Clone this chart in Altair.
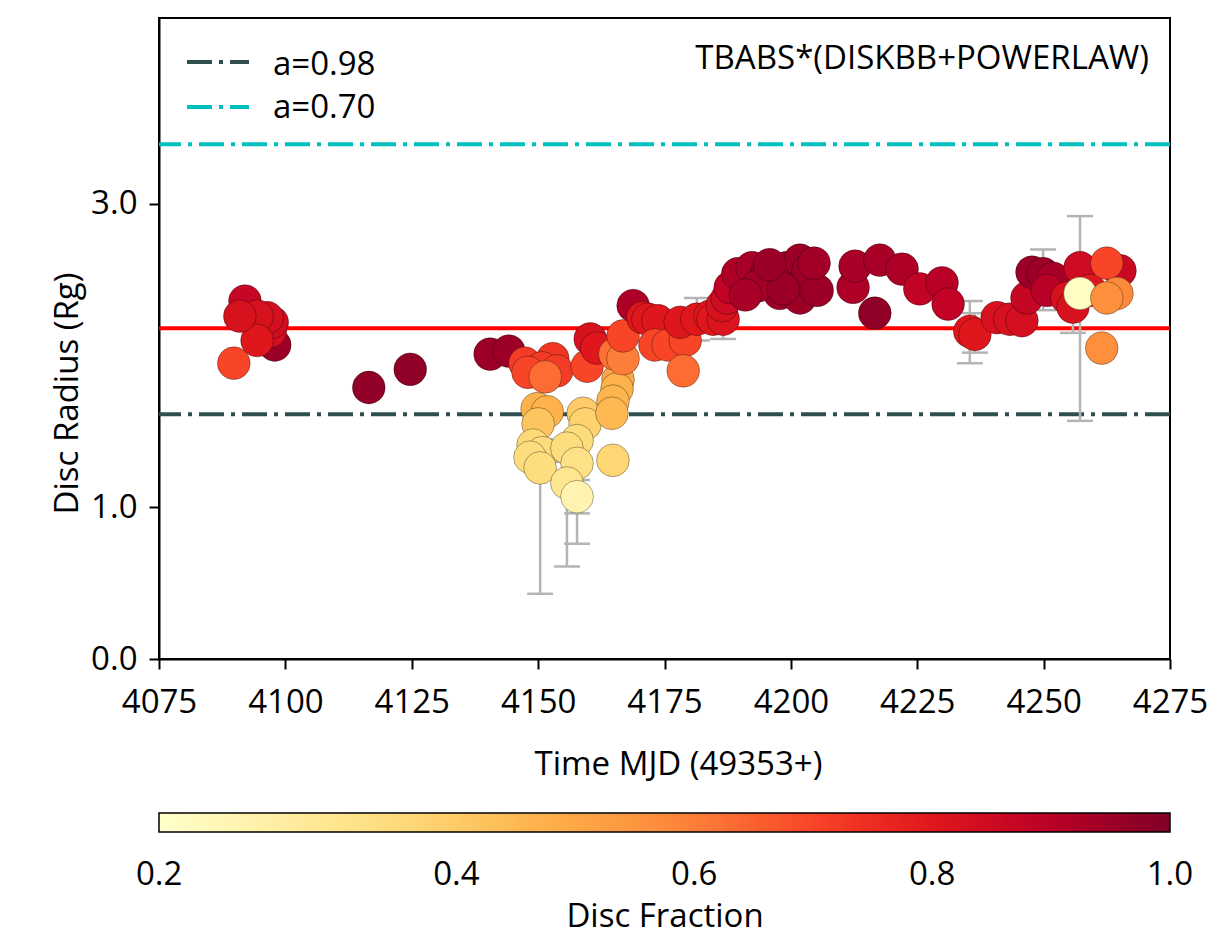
import altair as alt
import pandas as pd

# ---------------- data ----------------
t_mjd = [4097.9, 4092.0, 4097.0, 4097.4, 4096.4, 4094.4, 4094.4, 4091.0, 4089.8,
         4116.5, 4124.7,
         4140.5, 4144.2, 4147.4, 4152.9, 4150.8, 4153.7, 4148.0, 4151.4,
         4149.8, 4151.8, 4150.0, 4149.0, 4150.8, 4148.4, 4150.4,
         4158.9, 4159.3, 4157.7, 4155.7, 4157.7, 4155.7, 4157.7,
         4159.7, 4160.3, 4161.6, 4165.8, 4165.6, 4164.8, 4164.6, 4164.8,
         4165.2, 4166.8, 4166.8, 4168.8, 4170.7, 4171.7, 4173.7, 4173.1,
         4175.7, 4179.1, 4178.7, 4178.1, 4181.4, 4184.0, 4184.6, 4186.6,
         4186.4, 4187.4, 4188.0, 4189.5, 4192.3, 4195.3, 4197.3, 4197.8,
         4199.2, 4201.8, 4201.8, 4203.4, 4205.2, 4193.5, 4198.5, 4195.8,
         4204.6, 4191.0, 4212.3, 4212.7, 4217.6, 4216.6, 4222.0, 4225.5,
         4229.9, 4231.1, 4235.4, 4236.4, 4240.8, 4243.3, 4245.7, 4246.7,
         4247.7, 4249.9, 4251.9, 4250.7, 4254.6, 4255.8, 4257.2, 4259.2,
         4265.1, 4262.5, 4257.2, 4264.5, 4262.5, 4261.5]
radius = [2.07, 2.36, 2.16, 2.22, 2.25, 2.26, 2.10, 2.26, 1.95,
          1.79, 1.91,
          2.01, 2.03, 1.95, 1.98, 1.92, 1.90, 1.89, 1.86,
          1.65, 1.63, 1.55, 1.41, 1.36, 1.33, 1.26,
          1.62, 1.55, 1.44, 1.39, 1.29, 1.16, 1.07,
          1.93, 2.11, 2.05, 1.84, 1.78, 1.70, 1.62, 1.31,
          2.01, 1.98, 2.13, 2.33, 2.25, 2.24, 2.23, 2.07,
          2.07, 2.10, 1.90, 2.22, 2.24, 2.26, 2.24, 2.24,
          2.33, 2.38, 2.45, 2.54, 2.58, 2.56, 2.47, 2.41,
          2.58, 2.63, 2.38, 2.56, 2.43, 2.46, 2.44, 2.60,
          2.61, 2.40, 2.45, 2.59, 2.63, 2.28, 2.57, 2.44,
          2.48, 2.34, 2.16, 2.14, 2.25, 2.24, 2.23, 2.38,
          2.55, 2.54, 2.51, 2.43, 2.38, 2.32, 2.58, 2.43,
          2.56, 2.61, 2.41, 2.41, 2.38, 2.05]
disc_frac = [0.95, 0.87, 0.83, 0.84, 0.83, 0.82, 0.80, 0.82, 0.70,
             0.97, 0.97,
             0.95, 0.95, 0.72, 0.73, 0.72, 0.72, 0.70, 0.63,
             0.47, 0.47, 0.42, 0.36, 0.35, 0.34, 0.34,
             0.40, 0.38, 0.35, 0.34, 0.32, 0.30, 0.22,
             0.70, 0.82, 0.80, 0.50, 0.47, 0.46, 0.45, 0.37,
             0.62, 0.60, 0.70, 0.92, 0.80, 0.80, 0.80, 0.70,
             0.70, 0.70, 0.63, 0.80, 0.80, 0.80, 0.80, 0.81,
             0.82, 0.85, 0.88, 0.92, 0.93, 0.95, 0.95, 0.95,
             0.95, 0.95, 0.95, 0.95, 0.95, 0.94, 0.95, 0.95,
             0.94, 0.93, 0.92, 0.93, 0.93, 0.97, 0.92, 0.88,
             0.90, 0.88, 0.80, 0.80, 0.82, 0.82, 0.83, 0.87,
             0.95, 0.95, 0.93, 0.90, 0.82, 0.82, 0.85, 0.80,
             0.86, 0.70, 0.17, 0.58, 0.57, 0.57]

# error bars (time, lower, upper)
eb_t = [4150.4, 4155.7, 4157.7, 4157.7, 4181.4, 4186.6, 4203.4,
        4235.4, 4236.4, 4249.9, 4255.8, 4257.2]
eb_lo = [0.43, 0.61, 0.76, 0.96, 2.10, 2.11, 2.45, 1.95, 2.02, 2.30, 2.15, 1.57]
eb_hi = [1.45, 1.30, 1.50, 1.18, 2.38, 2.36, 2.68, 2.36, 2.28, 2.70, 2.50, 2.92]

isco_labels = ["a=0.98", "a=0.70"]
isco_values = [1.614, 3.393]
isco_colors = ["#2f4f4f", "#00bfbf"]
mean_radius = 2.18

x_ticks = [4075, 4100, 4125, 4150, 4175, 4200, 4225, 4250, 4275]
y_ticks = [0.0, 1.0, 3.0]
# end ticks nudged inside the bar so their labels are centred on the ends
cbar_ticks = [0.1501, 0.4, 0.6, 0.8, 0.9999]
model_label = "TBABS*(DISKBB+POWERLAW)"

# YlOrRd colour ramp, spread evenly over the colour-bar range 0.15..1.0
ylorrd = ["#ffffcc", "#ffeda0", "#fed976", "#feb24c", "#fd8d3c",
          "#fc4e2a", "#e31a1c", "#bd0026", "#800026"]
c_min, c_max = 0.15, 1.0
c_domain = [c_min + (c_max - c_min) * k / (len(ylorrd) - 1) for k in range(len(ylorrd))]

FONT = "Open Sans"
FS = 33
W, H = 1011, 641

df = pd.DataFrame({"t": t_mjd, "r": radius, "f": disc_frac})
eb = pd.DataFrame({"t": eb_t, "lo": eb_lo, "hi": eb_hi})
dummy = pd.DataFrame({"a": [0]})

xscale = alt.Scale(domain=[4075, 4275], nice=False, zero=False)
yscale = alt.Scale(domain=[0, 4.226], nice=False, zero=False)

xax = alt.Axis(values=x_ticks, format="d", title="Time MJD (49353+)",
               labelBaseline="alphabetic", labelPadding=43, labelFlush=False,
               titleX=519, titleY=115, titleBaseline="alphabetic")
yax = alt.Axis(values=y_ticks, format=".1f", title="Disc Radius (Rg)",
               labelPadding=12, labelFlush=False, titleAngle=-90, titleX=-82,
               titleY=375, titleBaseline="alphabetic", titleAlign="center")

layers = []

# horizontal reference lines
for v, c in zip(isco_values, isco_colors):
    layers.append(
        alt.Chart(pd.DataFrame({"v": [v]})).mark_rule(
            color=c, strokeWidth=4, strokeDash=[25, 7, 4, 7]
        ).encode(y=alt.Y("v:Q", scale=yscale, axis=yax))
    )
layers.append(
    alt.Chart(pd.DataFrame({"v": [mean_radius]})).mark_rule(
        color="#ff0000", strokeWidth=4
    ).encode(y=alt.Y("v:Q", scale=yscale, axis=yax))
)

# error bars
GRAY = "#b4b4b4"
layers.append(
    alt.Chart(eb).mark_rule(color=GRAY, strokeWidth=2.5).encode(
        x=alt.X("t:Q", scale=xscale, axis=xax),
        y=alt.Y("lo:Q", scale=yscale, axis=yax),
        y2="hi:Q",
    )
)
for col in ["lo", "hi"]:
    layers.append(
        alt.Chart(eb).mark_tick(color=GRAY, orient="horizontal", size=26,
                                thickness=2.5, opacity=1).encode(
            x=alt.X("t:Q", scale=xscale, axis=xax),
            y=alt.Y(f"{col}:Q", scale=yscale, axis=yax),
        )
    )

# points
layers.append(
    alt.Chart(df).mark_circle(size=1075, opacity=1, stroke="#000000",
                              strokeWidth=0.6, strokeOpacity=0.55).encode(
        x=alt.X("t:Q", scale=xscale, axis=xax),
        y=alt.Y("r:Q", scale=yscale, axis=yax),
        color=alt.Color(
            "f:Q",
            scale=alt.Scale(domain=c_domain, range=ylorrd, interpolate="rgb"),
            legend=alt.Legend(
                title="Disc Fraction", orient="none", legendX=0, legendY=795,
                direction="horizontal", gradientLength=W, gradientThickness=19,
                gradientStrokeColor="black", gradientStrokeWidth=1.5,
                values=cbar_ticks,
                labelExpr="datum.value < 0.2 ? '0.2' : format(datum.value, '.1f')",
                labelFontSize=FS, labelFont=FONT, labelColor="black",
                labelAlign="center", labelBaseline="alphabetic", labelOffset=27,
                labelOverlap=False, labelLimit=0,
                titleOrient="bottom", titleAnchor="middle", titleFontSize=FS,
                titleFont=FONT, titleFontWeight="normal", titleColor="black",
                titlePadding=35, titleBaseline="alphabetic", titleLimit=0,
            ),
        ),
    )
)

# in-plot legend for reference lines
legend_line_y = [44, 89]
legend_text_y = [57, 100]
for lab, c, ly, ty in zip(isco_labels, isco_colors, legend_line_y, legend_text_y):
    layers.append(
        alt.Chart(dummy).mark_rule(color=c, strokeWidth=4,
                                   strokeDash=[25, 7, 4, 7]).encode(
            x=alt.value(28), x2=alt.value(90), y=alt.value(ly))
    )
    layers.append(
        alt.Chart(dummy).mark_text(align="left", baseline="alphabetic",
                                   fontSize=FS, font=FONT, color="black").encode(
            x=alt.value(114), y=alt.value(ty), text=alt.value(lab))
    )

layers.append(
    alt.Chart(dummy).mark_text(align="right", baseline="alphabetic",
                               fontSize=FS, font=FONT, color="black").encode(
        x=alt.value(990), y=alt.value(51), text=alt.value(model_label))
)

chart = alt.layer(*layers).properties(
    width=W, height=H,
    autosize=alt.AutoSizeParams(type="none"),
    padding={"left": 151, "top": 10, "right": 40, "bottom": 280},
).configure(
    background="white"
).configure_view(
    stroke="black", strokeWidth=2
).configure_axis(
    grid=False, domainColor="black", domainWidth=2, tickColor="black",
    tickWidth=2, tickSize=10, labelFont=FONT, titleFont=FONT,
    labelFontSize=FS, titleFontSize=FS, labelColor="black", titleColor="black",
    titleFontWeight="normal", labelOverlap=False,
)

chart.save("out.html", embed_options={"renderer": "svg", "actions": False})
